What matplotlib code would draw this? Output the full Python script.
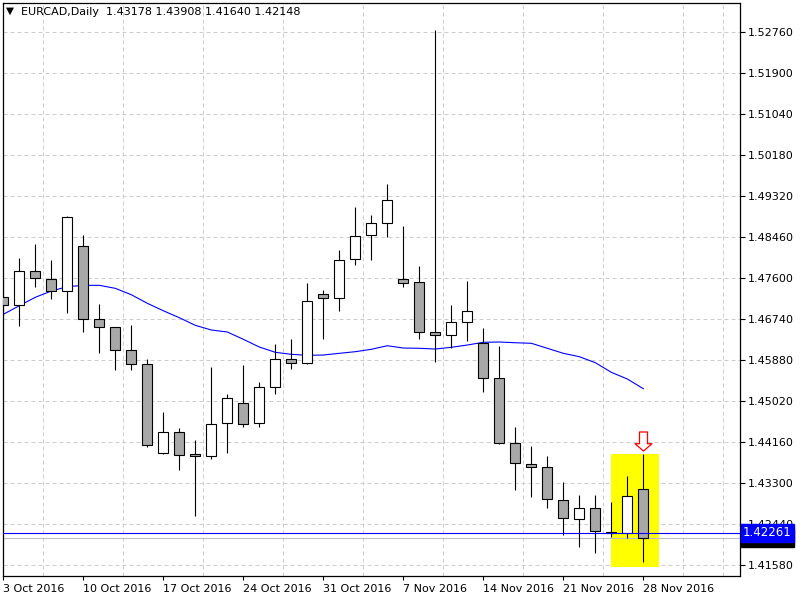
"""EURCAD daily candles with moving average, MT4 style."""
import numpy as np
import matplotlib
matplotlib.use("Agg")
import matplotlib.pyplot as plt
from matplotlib.path import Path
from matplotlib.transforms import blended_transform_factory

symbol = "EURCAD,Daily"
week_labels = ["3 Oct 2016", "10 Oct 2016", "17 Oct 2016", "24 Oct 2016", "31 Oct 2016",
               "7 Nov 2016", "14 Nov 2016", "21 Nov 2016", "28 Nov 2016"]

opens = [1.47214, 1.47034, 1.47747, 1.47579, 1.47327, 1.48271, 1.46740, 1.46579, 1.46090, 1.45796,
         1.43929, 1.44370, 1.43908, 1.43866, 1.44559, 1.44978, 1.44559, 1.45314, 1.45901, 1.45817,
         1.47265, 1.47181, 1.47999, 1.48502, 1.48754, 1.47579, 1.47516, 1.46467, 1.46404, 1.46677,
         1.46237, 1.45502, 1.44139, 1.43699, 1.43636, 1.42943, 1.42545, 1.42776, 1.42289, 1.42251,
         1.43178]
highs = [1.47544, 1.48020, 1.48320, 1.47984, 1.48907, 1.48508, 1.47061, 1.46579, 1.46614, 1.45901,
         1.44796, 1.44454, 1.44208, 1.45733, 1.45167, 1.45775, 1.45419, 1.46216, 1.46327, 1.47495,
         1.47355, 1.48194, 1.49096, 1.48928, 1.49578, 1.48697, 1.47852, 1.52808, 1.47040, 1.47544,
         1.46551, 1.46174, 1.44475, 1.44082, 1.43866, 1.43321, 1.43048, 1.43048, 1.42914, 1.43453,
         1.43908]
lows = [1.46830, 1.46606, 1.47424, 1.47172, 1.46879, 1.46480, 1.46040, 1.45677, 1.45677, 1.44055,
        1.43908, 1.43585, 1.42620, 1.43803, 1.43929, 1.44475, 1.44475, 1.45167, 1.45691, 1.45796,
        1.46327, 1.46920, 1.47885, 1.47990, 1.48473, 1.47411, 1.46321, 1.45838, 1.46144, 1.46291,
        1.45221, 1.44118, 1.43153, 1.43019, 1.42788, 1.42209, 1.41970, 1.41844, 1.42167, 1.42159,
        1.41640]
closes = [1.47034, 1.47747, 1.47600, 1.47327, 1.48880, 1.46740, 1.46579, 1.46090, 1.45796, 1.44097,
          1.44370, 1.43887, 1.43866, 1.44538, 1.45083, 1.44538, 1.45314, 1.45901, 1.45817, 1.47118,
          1.47181, 1.47984, 1.48481, 1.48754, 1.49236, 1.47495, 1.46467, 1.46404, 1.46677, 1.46908,
          1.45502, 1.44139, 1.43720, 1.43636, 1.42964, 1.42566, 1.42776, 1.42293, 1.42268, 1.43027,
          1.42148]
moving_avg = [1.46845, 1.47025, 1.47202, 1.47334, 1.47424, 1.47453, 1.47453, 1.47390, 1.47256, 1.47076,
              1.46920, 1.46774, 1.46614, 1.46516, 1.46474, 1.46321, 1.46159, 1.46048, 1.46006, 1.45985,
              1.45991, 1.46027, 1.46061, 1.46111, 1.46186, 1.46138, 1.46132, 1.46117, 1.46153, 1.46201,
              1.46258, 1.46264, 1.46249, 1.46237, 1.46132, 1.46027, 1.45956, 1.45830, 1.45628, 1.45488,
              1.45284]
price_ticks = [1.41580, 1.42440, 1.43300, 1.44160, 1.45020, 1.45880, 1.46740,
               1.47600, 1.48460, 1.49320, 1.50180, 1.51040, 1.51900, 1.52760]
ask_price = 1.42261
zone_start, zone_end = 38, 41          # highlighted bars (yellow box)
zone_top, zone_bottom = 1.43921, 1.41551
signal_price = 1.44198                 # red down arrow above the last bar

x = np.arange(len(opens))
o, h, l, c = map(np.array, (opens, highs, lows, closes))
bull = c >= o

fig = plt.figure(figsize=(8, 6), dpi=100)
ax = fig.add_axes([2.7/800, 24/600, 737.3/800, 573/600])
ax.set_xlim(-0.0375, 46.04)
ax.set_ylim(1.41356, 1.53375)

grid_kw = dict(color="#cccccc", lw=0.72, ls=(0, (4, 3)))
ax.set_xticks(np.arange(2.5, 46, 2.5), minor=True)
ax.grid(which="minor", axis="x", **grid_kw)
ax.grid(which="major", axis="y", **grid_kw)
ax.set_axisbelow(True)

# highlight box
ax.fill_between([zone_start - 0.02, zone_end - 0.02], zone_bottom, zone_top,
                color="#ffff00", lw=0, zorder=1)

ax.plot(x, moving_avg, color="#0000ff", lw=0.8, zorder=2)

ax.vlines(x, l, h, color="black", lw=0.8, zorder=3)
ax.bar(x, np.abs(c - o), bottom=np.minimum(o, c), width=0.62,
       color=np.where(bull, "white", "#a8a8a8"), edgecolor="black", lw=0.8, zorder=4)

# price lines
ax.axhline(closes[-1], color="#c0c0c0", lw=0.8, zorder=2)
ax.axhline(ask_price, color="#0000ff", lw=0.8, zorder=5)

# signal arrow (hollow, pointing down)
arrow = Path([(-4, 9.5), (4, 9.5), (4, -2.2), (8.5, -2.2), (0, -9.5), (-8.5, -2.2),
              (-4, -2.2), (-4, 9.5)], closed=True)
ax.plot(x[-1], signal_price, marker=arrow, ms=13.7, mfc="white", mec="#ff0000",
        mew=0.9, zorder=6, clip_on=False)

# axes styling
for s in ax.spines.values():
    s.set_color("black"); s.set_linewidth(0.9)
ax.yaxis.tick_right()
ax.set_yticks(price_ticks)
ax.set_yticklabels([f"{p:.5f}" for p in price_ticks], fontsize=8)
ax.tick_params(axis="y", length=3.6, width=0.8, pad=2.2)
ax.set_xticks(x[::5])
ax.set_xticklabels(week_labels, fontsize=8, ha="left")
ax.tick_params(axis="x", which="major", length=3, width=0.8, pad=3)
ax.tick_params(axis="x", which="minor", length=0)

# right-side price tags
tr = blended_transform_factory(ax.transAxes, ax.transData)
ax.text(1.004, closes[-1], f"{closes[-1]:.5f}", transform=tr, ha="left", va="center",
        fontsize=8.5, color="white", zorder=7, clip_on=False,
        bbox=dict(boxstyle="square,pad=0.2", fc="black", ec="black"))
ax.text(1.004, ask_price, f"{ask_price:.5f}", transform=tr, ha="left", va="center",
        fontsize=8.5, color="white", zorder=8, clip_on=False,
        bbox=dict(boxstyle="square,pad=0.2", fc="#0000ff", ec="#0000ff"))

# header
fig.text(6/800, 1 - 11/600, "\u25bc", fontsize=7.5, va="center", ha="left")
fig.text(21/800, 1 - 12/600,
         f"{symbol}  {opens[-1]:.5f} {highs[-1]:.5f} {lows[-1]:.5f} {closes[-1]:.5f}",
         fontsize=8, va="center", ha="left")

fig.savefig("out.png", dpi=100)
